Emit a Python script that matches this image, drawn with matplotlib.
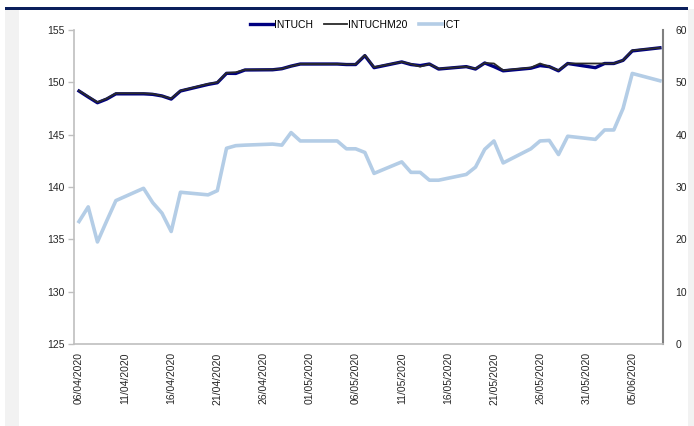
import matplotlib
matplotlib.use("Agg")
import matplotlib.pyplot as plt
import matplotlib.dates as mdates
from matplotlib.patches import Rectangle
import pandas as pd

plt.rcParams['font.family'] = ['Liberation Sans', 'DejaVu Sans']

dates = ["2020-04-06", "2020-04-07", "2020-04-08", "2020-04-09", "2020-04-10",
         "2020-04-13", "2020-04-14", "2020-04-15", "2020-04-16", "2020-04-17",
         "2020-04-20", "2020-04-21", "2020-04-22", "2020-04-23", "2020-04-24",
         "2020-04-27", "2020-04-28", "2020-04-29", "2020-04-30",
         "2020-05-04", "2020-05-05", "2020-05-06", "2020-05-07", "2020-05-08",
         "2020-05-11", "2020-05-12", "2020-05-13", "2020-05-14", "2020-05-15",
         "2020-05-18", "2020-05-19", "2020-05-20", "2020-05-21", "2020-05-22",
         "2020-05-25", "2020-05-26", "2020-05-27", "2020-05-28", "2020-05-29",
         "2020-06-01", "2020-06-02", "2020-06-03", "2020-06-04", "2020-06-05",
         "2020-06-08"]

intuch = [149.17, 148.6, 148.05, 148.4, 148.9,
          148.9, 148.85, 148.7, 148.4, 149.17,
          149.8, 149.96, 150.86, 150.85, 151.18,
          151.2, 151.3, 151.55, 151.75,
          151.75, 151.7, 151.7, 152.55, 151.4,
          151.95, 151.7, 151.6, 151.75, 151.27,
          151.5, 151.27, 151.85, 151.5, 151.1,
          151.35, 151.6, 151.5, 151.1, 151.8,
          151.4, 151.8, 151.8, 152.1, 153.0,
          153.3]

intuchm20 = [149.2, 148.65, 148.1, 148.45, 148.95,
             148.95, 148.9, 148.7, 148.45, 149.2,
             149.85, 150.0, 150.9, 150.96, 151.2,
             151.22, 151.3, 151.55, 151.75,
             151.75, 151.72, 151.72, 152.6, 151.45,
             151.95, 151.75, 151.5, 151.75, 151.3,
             151.5, 151.3, 151.85, 151.8, 151.15,
             151.4, 151.8, 151.5, 151.15, 151.8,
             151.8, 151.8, 151.8, 152.1, 153.05,
             153.3]

ict = [23.4, 26.2, 19.5, 23.5, 27.4,
       29.75, 27.0, 25.0, 21.5, 29.0,
       28.5, 29.3, 37.4, 37.9, 38.0,
       38.2, 38.0, 40.4, 38.8,
       38.8, 37.3, 37.3, 36.6, 32.6,
       34.8, 32.8, 32.8, 31.3, 31.3,
       32.4, 33.8, 37.2, 38.8, 34.6,
       37.3, 38.8, 38.9, 36.2, 39.7,
       39.1, 40.9, 40.9, 45.0, 51.7,
       50.3]

x = pd.to_datetime(dates)
tick_dates = pd.date_range("2020-04-06", periods=13, freq="5D")

fig = plt.figure(figsize=(6.94, 4.26), dpi=100)
fig.patch.set_facecolor('white')

# frame decorations around the chart
fig.patches.append(Rectangle((5 / 694, 0), 14 / 694, 1 - 9 / 426, transform=fig.transFigure,
                             facecolor='#f2f2f2', edgecolor='none', zorder=0))
fig.patches.append(Rectangle((688 / 694, 0), 6 / 694, 1 - 9 / 426, transform=fig.transFigure,
                             facecolor='#f2f2f2', edgecolor='none', zorder=0))
fig.patches.append(Rectangle((5 / 694, 1 - 9.5 / 426), 683 / 694, 2.5 / 426, transform=fig.transFigure,
                             facecolor='#0b1f5c', edgecolor='none', zorder=0))

ax = fig.add_axes([74 / 694, 82 / 426, 589 / 694, 314 / 426])
ax.set_facecolor('none')
ax2 = ax.twinx()

l1, = ax.plot(x, intuch, color='#000080', lw=2.4, label='INTUCH', zorder=3)
l2, = ax.plot(x, intuchm20, color='#2a2a2a', lw=1.3, label='INTUCHM20', zorder=4)
l3, = ax2.plot(x, ict, color='#b4cde6', lw=2.6, label='ICT', zorder=2)
ax.set_zorder(ax2.get_zorder() + 1)
ax.patch.set_visible(False)

ax.set_ylim(125, 155)
ax.set_yticks([125, 130, 135, 140, 145, 150, 155])
ax2.set_ylim(0, 60)
ax2.set_yticks([0, 10, 20, 30, 40, 50, 60])
ax.set_xlim(pd.Timestamp("2020-04-06") - pd.Timedelta(hours=13),
            pd.Timestamp("2020-06-08") + pd.Timedelta(hours=8))
ax.set_xticks(tick_dates)
ax.xaxis.set_major_formatter(mdates.DateFormatter('%d/%m/%Y'))

for a in (ax, ax2):
    a.spines['top'].set_visible(False)
ax.spines['right'].set_visible(False)
ax2.spines['left'].set_visible(False)
ax2.spines['bottom'].set_visible(False)
ax.spines['left'].set_color('#bfbfbf')
ax.spines['left'].set_linewidth(1.2)
ax.spines['bottom'].set_color('#bfbfbf')
ax.spines['bottom'].set_linewidth(1.2)
ax2.spines['right'].set_color('#808080')
ax2.spines['right'].set_linewidth(1.5)

ax.tick_params(axis='y', length=4, width=1, color='#bfbfbf', labelsize=7.5,
               labelcolor='#262626', pad=3)
ax.tick_params(axis='x', length=0, labelsize=7.5, labelcolor='#262626', pad=6,
               labelrotation=90)
ax2.tick_params(axis='y', length=0, labelsize=7.5, labelcolor='#262626', pad=9)

ax.legend(handles=[l1, l2, l3], loc='center', bbox_to_anchor=(0.477, 1.016), ncol=3,
          frameon=False, fontsize=7.5, handlelength=2.2, handletextpad=0.1,
          columnspacing=1.1, borderaxespad=0)

fig.savefig('out.png', dpi=100)
